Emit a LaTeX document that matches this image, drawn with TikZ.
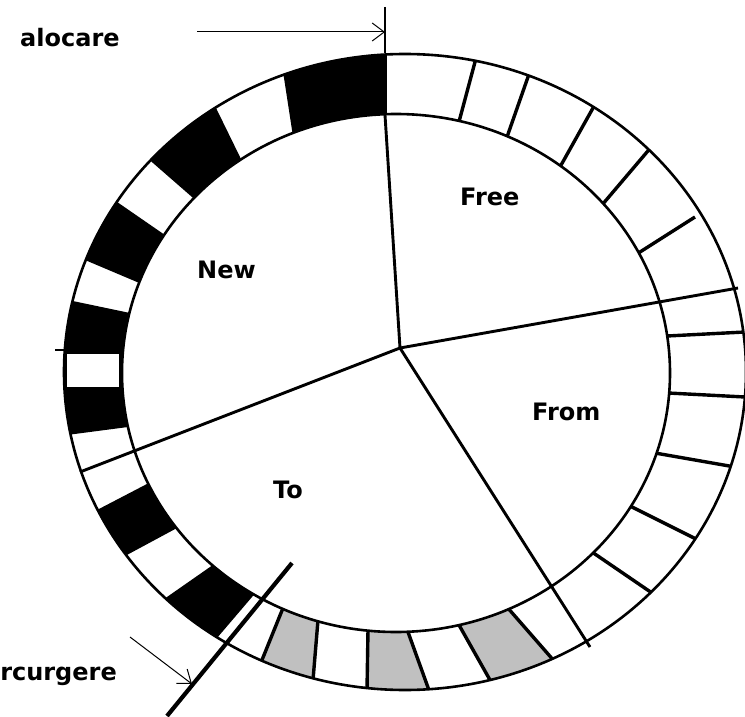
\documentclass[tikz,border=0pt]{standalone}
\usepackage{fontspec}
\setmainfont{DejaVu Sans}
\usetikzlibrary{calc,arrows.meta}
\definecolor{cellgrey}{HTML}{C0C0C0}
\tikzset{
  ringline/.style={line width=2.6pt},
  divider/.style={line width=3.4pt},
  spoke/.style={line width=2.9pt},
  tag/.style={font=\bfseries\fontsize{24}{28}\selectfont, inner sep=0pt},
  pointer/.style={line width=1pt, -{Straight Barb[length=12pt,width=18pt,line width=1pt]}},
}
\begin{document}
\begin{tikzpicture}[x=1pt,y=-1pt]
\useasboundingbox (0,0) rectangle (745,717);
\coordinate (oc) at (405,372);
\coordinate (ic) at (396,373);
\coordinate (hub) at (400,348);
\coordinate (ls) at (80,472);
\coordinate (p1) at (292,563);
\coordinate (p2) at (167,716);
\coordinate (mk) at (385,7);
\coordinate (a1) at (197,32);
\coordinate (a2) at (385,32);
\coordinate (b1) at (130,637);
\coordinate (b2) at (192,684);
\foreach \n/\ix/\iy/\ox/\oy in {
  0/385/115/385/53, 1/460/118/475/62, 2/507/137/528/77, 3/560/167/593/108,
  4/602/205/647/152, 5/640/252/695/217, 6/658/303/738/288, 7/667/336/745/332,
  8/668/393/745/397, 9/655/453/735/467, 10/628/505/698/540, 11/592/552/652/593,
  12/552/583/590/647, 13/507/607/555/662, 14/459/625/490/680, 15/408/632/430/693,
  16/368/630/367/690, 17/318/620/313/680, 18/283/608/262/660, 19/252/597/217/638,
  20/210/567/167/597, 21/177/528/125/556, 22/145/485/97/510, 23/128/427/67/435,
  24/130/313/68/300, 25/137/282/85/260, 26/162/233/120/204, 27/192/197/153/163,
  28/240/157/217/110, 29/292/130/284/78}{
  \coordinate (i\n) at (\ix,\iy);
  \coordinate (o\n) at (\ox,\oy);
}
% cells
\begin{scope}
  \clip (oc) ellipse [x radius=341, y radius=318];
  \foreach \a/\b/\c in {29/0/black, 28/27/black, 26/25/black, 24/23/black,
      22/21/black, 20/19/black, 18/17/cellgrey, 16/15/cellgrey, 14/13/cellgrey}{
    \fill[\c] ($(i\a)!-0.5!(o\a)$) -- ($(o\a)!-0.5!(i\a)$)
      -- ($(o\b)!-0.5!(i\b)$) -- ($(i\b)!-0.5!(o\b)$) -- cycle;
  }
  \foreach \n in {0,1,2,3,4,7,8,9,10,11,13,14,15,16,17,18}{
    \draw[divider] ($(i\n)!-0.08!(o\n)$) -- ($(o\n)!-0.08!(i\n)$);
  }
  \draw[divider] ($(i5)!-0.08!(o5)$) -- (o5);
\end{scope}
\fill[white] (ic) ellipse [x radius=274, y radius=259];
% white box inside black block
\filldraw[fill=white, line width=1.8pt] (66,353) rectangle (120,388);
\draw[line width=1.8pt] (55,350) -- (66,350);
% rings
\draw[ringline] (oc) ellipse [x radius=341, y radius=318];
\draw[ringline] (ic) ellipse [x radius=274, y radius=259];
% spokes
\draw[spoke] (hub) -- (i0);
\draw[spoke] (hub) -- (o6);
\draw[spoke] (hub) -- (o12);
\draw[spoke] (hub) -- (ls);
% markers
\draw[line width=1.3pt] (mk) -- (o0);
\draw[line width=4.2pt] (p1) -- (p2);
\draw[pointer] (a1) -- (a2);
\draw[pointer] (b1) -- (b2);
% labels
\node[tag, anchor=base west] (talocare) at (20,47) {alocare};
\node[tag, anchor=base east] (tparc) at (117,680) {parcurgere};
\node[tag, anchor=base west] (tfree) at (460,205) {Free};
\node[tag, anchor=base west] (tnew) at (197,278) {New};
\node[tag, anchor=base west] (tto) at (273,498) {To};
\node[tag, anchor=base west] (tfrom) at (532,420) {From};
\end{tikzpicture}
\end{document}
